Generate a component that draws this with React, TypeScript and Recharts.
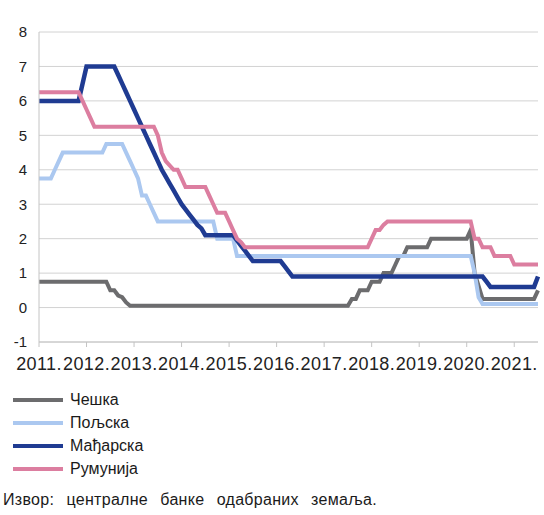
import { LineChart, Line, XAxis, YAxis, CartesianGrid } from 'recharts';

// месеци од јануара 2011. (0) до јула 2021. (126), вредност у %
const czech: [number, number][] = [
    [0, 0.75], [17, 0.75], [18, 0.5], [19, 0.5], [20, 0.35], [21, 0.3], [22, 0.15], [23, 0.05],
    [78, 0.05], [79, 0.25], [80, 0.25], [81, 0.5], [83, 0.5], [84, 0.75], [86, 0.75], [87, 1.0],
    [89, 1.0], [90, 1.25], [91, 1.5], [92, 1.5], [93, 1.75], [98, 1.75], [99, 2.0], [108, 2.0],
    [109, 2.25], [110, 1.0], [112, 0.25], [125, 0.25], [126, 0.5],
];
const poland: [number, number][] = [
    [0, 3.75], [3, 3.75], [4, 4.0], [5, 4.25], [6, 4.5], [16, 4.5], [17, 4.75], [21, 4.75],
    [22, 4.5], [23, 4.25], [24, 4.0], [25, 3.75], [26, 3.25], [27, 3.25], [28, 3.0], [29, 2.75],
    [30, 2.5], [44, 2.5], [45, 2.0], [49, 2.0], [50, 1.5], [109, 1.5], [110, 1.0], [111, 0.3],
    [112, 0.1], [126, 0.1],
];
const hungary: [number, number][] = [
    [0, 6.0], [10, 6.0], [11, 6.5], [12, 7.0], [19, 7.0], [20, 6.75], [21, 6.5], [22, 6.25],
    [23, 6.0], [24, 5.75], [25, 5.5], [26, 5.25], [27, 5.0], [28, 4.75], [29, 4.5], [30, 4.25],
    [31, 4.0], [32, 3.8], [33, 3.6], [34, 3.4], [35, 3.2], [36, 3.0], [37, 2.85], [38, 2.7],
    [39, 2.55], [40, 2.4], [41, 2.3], [42, 2.1], [49, 2.1], [50, 1.95], [51, 1.8], [52, 1.65],
    [53, 1.5], [54, 1.35], [61, 1.35], [62, 1.2], [63, 1.05], [64, 0.9], [112, 0.9], [113, 0.75],
    [114, 0.6], [125, 0.6], [126, 0.9],
];
const romania: [number, number][] = [
    [0, 6.25], [10, 6.25], [11, 6.0], [12, 5.75], [13, 5.5], [14, 5.25], [29, 5.25], [30, 5.0],
    [31, 4.5], [32, 4.25], [34, 4.0], [35, 4.0], [36, 3.75], [37, 3.5], [42, 3.5], [43, 3.25],
    [44, 3.0], [45, 2.75], [47, 2.75], [48, 2.5], [49, 2.25], [50, 2.0], [51, 1.9], [52, 1.75],
    [83, 1.75], [84, 2.0], [85, 2.25], [86, 2.25], [87, 2.4], [88, 2.5], [109, 2.5], [110, 2.0],
    [111, 2.0], [112, 1.75], [114, 1.75], [115, 1.5], [119, 1.5], [120, 1.25], [126, 1.25],
];

const seriesNames = ['Чешка', 'Пољска', 'Мађарска', 'Румунија'];
const seriesColors = ['#6c6c6e', '#abc8f0', '#1f3b92', '#dc7ea0'];
const seriesPoints = [czech, poland, hungary, romania];

const yearTicks = [0, 12, 24, 36, 48, 60, 72, 84, 96, 108, 120];
const yearLabels = ['2011.', '2012.', '2013.', '2014.', '2015.', '2016.', '2017.', '2018.', '2019.', '2020.', '2021.'];
const valueTicks = [-1, 0, 1, 2, 3, 4, 5, 6, 7, 8];

const sourceText = 'Извор: централне банке одабраних земаља.';

const font = '"Liberation Sans", Arial, sans-serif';

export default function App() {
    return (
        <div style={{ position: 'absolute', left: 0, top: 0, width: 544, height: 515, background: '#fff', fontFamily: font }}>
            <LineChart width={544} height={375} margin={{ top: 32, right: 6, left: 0, bottom: 0 }}>
                <CartesianGrid vertical={false} stroke="#d2d2d2" />
                <XAxis
                    type="number"
                    dataKey="m"
                    domain={[0, 126]}
                    ticks={yearTicks}
                    interval={0}
                    height={33}
                    stroke="#c4c4c4"
                    tickSize={5}
                    tickMargin={10}
                    tickFormatter={(v: number) => yearLabels[yearTicks.indexOf(v)] ?? ''}
                    tick={{ fontSize: 18, fill: '#222', fontFamily: font, letterSpacing: 0.4 }}
                />
                <YAxis
                    domain={[-1, 8]}
                    ticks={valueTicks}
                    interval={0}
                    width={39}
                    stroke="#c4c4c4"
                    tickLine={false}
                    tickSize={4}
                    tickMargin={8}
                    tick={{ fontSize: 15, fill: '#222', fontFamily: font }}
                />
                <YAxis
                    yAxisId="frame"
                    orientation="right"
                    domain={[-1, 8]}
                    width={0}
                    tick={false}
                    tickLine={false}
                    stroke="#c4c4c4"
                />
                {seriesPoints.map((pts, i) => (
                    <Line
                        key={seriesNames[i]}
                        data={pts.map(([m, v]) => ({ m, v }))}
                        dataKey="v"
                        name={seriesNames[i]}
                        type="linear"
                        stroke={seriesColors[i]}
                        strokeWidth={i === 2 ? 4.5 : 4}
                        dot={false}
                        activeDot={false}
                        isAnimationActive={false}
                    />
                ))}
            </LineChart>
            <div style={{ position: 'absolute', left: 13, top: 388, fontSize: 16, color: '#1a1a1a' }}>
                {seriesNames.map((name, i) => (
                    <div key={name} style={{ display: 'flex', alignItems: 'center', height: 23 }}>
                        <svg width={50} height={6} style={{ marginRight: 7 }}>
                            <line x1={0} y1={3} x2={50} y2={3} stroke={seriesColors[i]} strokeWidth={4} />
                        </svg>
                        <span>{name}</span>
                    </div>
                ))}
            </div>
            <div style={{ position: 'absolute', left: 3, top: 491, fontSize: 16, color: '#1a1a1a', wordSpacing: 7.5, letterSpacing: 0.3 }}>
                {sourceText}
            </div>
        </div>
    );
}
